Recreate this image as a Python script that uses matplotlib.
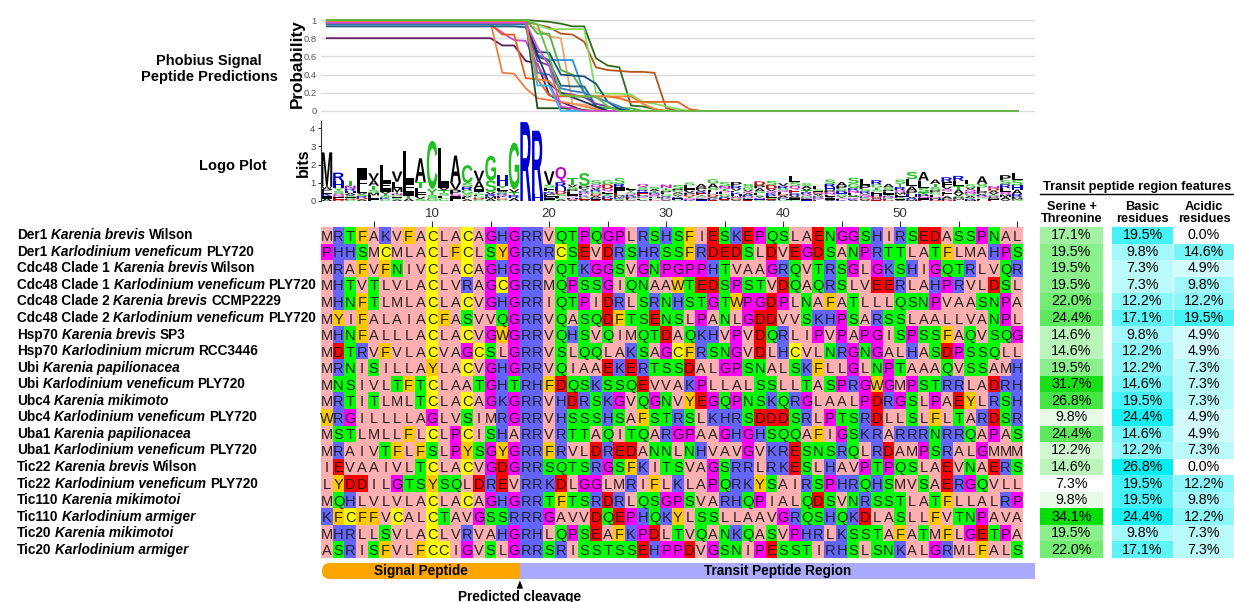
import matplotlib
matplotlib.use("Agg")
import matplotlib.pyplot as plt
import matplotlib.transforms as mtransforms
import numpy as np
from matplotlib.textpath import TextPath
from matplotlib.patches import PathPatch, Rectangle, FancyBboxPatch
from matplotlib.font_manager import FontProperties
from matplotlib.colors import LinearSegmentedColormap, Normalize

plt.rcParams['font.family'] = ['Liberation Sans', 'DejaVu Sans']

W, H = 1234, 602

# --- data ---
genes = ['Der1', 'Der1', 'Cdc48 Clade 1', 'Cdc48 Clade 1', 'Cdc48 Clade 2', 'Cdc48 Clade 2',
         'Hsp70', 'Hsp70', 'Ubi', 'Ubi', 'Ubc4', 'Ubc4', 'Uba1', 'Uba1',
         'Tic22', 'Tic22', 'Tic110', 'Tic110', 'Tic20', 'Tic20']
species = ['Karenia brevis', 'Karlodinium veneficum', 'Karenia brevis', 'Karlodinium veneficum',
           'Karenia brevis', 'Karlodinium veneficum', 'Karenia brevis', 'Karlodinium micrum',
           'Karenia papilionacea', 'Karlodinium veneficum', 'Karenia mikimoto', 'Karlodinium veneficum',
           'Karenia papilionacea', 'Karlodinium veneficum', 'Karenia brevis', 'Karlodinium veneficum',
           'Karenia mikimotoi', 'Karlodinium armiger', 'Karenia mikimotoi', 'Karlodinium armiger']
strains = ['Wilson', 'PLY720', 'Wilson', 'PLY720', 'CCMP2229', 'PLY720', 'SP3', 'RCC3446',
           '', 'PLY720', '', 'PLY720', '', 'PLY720', 'Wilson', 'PLY720', '', '', '', '']

sequences = [
    'MRTFAKVFACLACAGHGRRVQTPQGPLRSHSFIESKEPQSLAENGGSHIRSEDASSPNAL',
    'PHHSMCMLACLFCLSYGRRRCSEVDRSHRSSFRDEDSLDVEGDSANPRTTLATFLMAHPS',
    'MRAFVFNIVCLACAGHGRRVQTKGGSVGNPGPPHTVAAGRQVTRSGLGKSHIGQTRLVQR',
    'MHTVTLVLACLVRAGCGRRMQPSSGIQNAAWTEDSPSTVDQAQRSLVEERLAHPRVLDSL',
    'MHNFTLMLACLACVGHGRRIQTPIDRLSRNHSTGTWPGDPLNAFATLLLQSNPVAASNPA',
    'MYIFALAIACFASVVQGRRVQASQDFTSENSLPANLGDDVVSKHPSARSSLAALLVANPL',
    'MHNFALLLACLACVGWGRRVQHSVQIMQTDAQKHVPVDQRLIPVPAPGISPSSFAQVSQG',
    'MDTRVFVLACVAGCSLGRRVSLQQLAKSAGCFRSNGVDLHCVLNRGNGALHASDPSSQLL',
    'MRNISILLAYLACVGHGRRVQIAAEKERTSSDALGPSNALSKFLLGLNPTAAAQVSSAMH',
    'MNSIVLTFTCLAATGHTRHFDQSKSSQEVVAKPLLALSSLLTASPRGWGMPSTRRLADRH',
    'MRTITLMLTCLACAGKGRRVHDRSKGVQGNVYEGQPNSKQRGLAALPDRGSLPAEYLRSH',
    'WRGILLLLAGLVSIMRGRRVHSSSHSAFSTRSLKHRSDDDSRLPTSRDLLSLFLTARDSR',
    'MSTLMLLFLCLPCISHARRVRTTAQITQARGPAAGHGHSQQAFIGSKRARRRNRRQAPAS',
    'MRAIVTFLFSLPYSGYGRRFRVLDREDANNLNHVAVGVKRESNSRQLRDAMPSRALGMMM',
    'IEVAAIVLTCLACVGDGRRSQTSRGSFKITSVAGSRRLRKESLHAVPTPQSLAEVNAERS',
    'LYDDILGTSYSQLDREVRRKDLGGLMRIFLKLAPQRKYSAIRSPHRQHSMVSAERGQVLL',
    'MQHLVLVLACLACAGHGRRTFTSRDRLQSGPSVARHQPIALQDSVNRSSTLATFLLALRP',
    'KFCFFVCALCTAVGSSRRRGAVVDQEPHQKYLSSLLAAVGRQSHQKDLASLLFVTNPAVA',
    'MHRLLSVLACLVRVAHGRHLQPSEAFKPDLTVQANKQASVPHRLKSSTAFATMFLGETPA',
    'ASRISFVLFCCIGVSLGRRSRISSTSSEHPPDVGSNIPESSTIRHSLSNKALGRMLFALS',
]

ser_thr = [17.1, 19.5, 19.5, 19.5, 22.0, 24.4, 14.6, 14.6, 19.5, 31.7,
           26.8, 9.8, 24.4, 12.2, 14.6, 7.3, 9.8, 34.1, 19.5, 22.0]
basic = [19.5, 9.8, 7.3, 7.3, 12.2, 17.1, 9.8, 12.2, 12.2, 14.6,
         19.5, 24.4, 14.6, 12.2, 26.8, 19.5, 19.5, 24.4, 9.8, 17.1]
acidic = [0.0, 14.6, 4.9, 9.8, 12.2, 19.5, 4.9, 4.9, 7.3, 7.3,
          7.3, 4.9, 4.9, 7.3, 0.0, 12.2, 9.8, 12.2, 7.3, 7.3]

cleavage_site = 17

# Phobius signal peptide probability, vertices (position, probability)
curve_pos = [
    [1, 15, 16, 17, 18, 19, 20, 21, 22, 23, 60],
    [1, 15, 16, 17, 18, 19, 20, 21, 22, 23, 24, 25, 60],
    [1, 14, 15, 16, 17, 18, 19, 20, 21, 22, 60],
    [1, 18, 19, 20, 21, 22, 23, 24, 25, 26, 27, 28, 29, 30, 60],
    [1, 18, 19, 20, 21, 22, 23, 24, 25, 26, 27, 28, 29, 30, 31, 60],
    [1, 18, 19, 20, 21, 22, 23, 24, 25, 26, 27, 28, 29, 30, 31, 32, 60],
    [1, 14, 15, 16, 17, 18, 19, 20, 21, 25, 26, 27, 31, 32, 33, 60],
    [1, 18, 19, 20, 21, 22, 23, 24, 25, 60],
    [1, 18, 19, 20, 21, 22, 23, 24, 25, 27, 28, 60],
    [1, 18, 19, 20, 21, 22, 23, 24, 60],
    [1, 18, 19, 20, 21, 60],
    [1, 18, 19, 20, 21, 22, 23, 24, 25, 60],
    [1, 18, 19, 20, 21, 22, 23, 24, 25, 26, 27, 60],
    [1, 17, 18, 19, 20, 21, 22, 23, 24, 25, 60],
    [1, 18, 19, 20, 21, 22, 23, 24, 25, 26, 27, 60],
    [1, 18, 19, 20, 21, 22, 23, 24, 25, 26, 60],
    [1, 18, 19, 20, 21, 22, 23, 24, 25, 60],
    [1, 18, 19, 20, 21, 22, 23, 27, 28, 29, 30, 60],
    [1, 18, 19, 20, 21, 22, 23, 60],
    [1, 18, 19, 20, 21, 22, 24, 25, 26, 60],
]
curve_prob = [
    [0.80, 0.80, 0.72, 0.72, 0.55, 0.52, 0.18, 0.10, 0.05, 0.0, 0.0],
    [0.97, 0.97, 0.42, 0.41, 0.25, 0.14, 0.12, 0.10, 0.08, 0.05, 0.02, 0.0, 0.0],
    [0.97, 0.97, 0.95, 0.86, 0.78, 0.77, 0.50, 0.30, 0.05, 0.0, 0.0],
    [1.0, 1.0, 0.99, 0.98, 0.96, 0.93, 0.93, 0.58, 0.50, 0.48, 0.06, 0.05, 0.02, 0.0, 0.0],
    [0.98, 0.98, 0.95, 0.92, 0.85, 0.84, 0.76, 0.48, 0.45, 0.44, 0.43, 0.43, 0.42, 0.03, 0.0, 0.0],
    [1.0, 1.0, 0.95, 0.90, 0.90, 0.90, 0.90, 0.20, 0.19, 0.19, 0.18, 0.10, 0.08, 0.05, 0.02, 0.0, 0.0],
    [0.97, 0.97, 0.95, 0.84, 0.84, 0.36, 0.35, 0.17, 0.16, 0.16, 0.14, 0.10, 0.10, 0.02, 0.0, 0.0],
    [0.97, 0.97, 0.90, 0.82, 0.80, 0.08, 0.07, 0.04, 0.0, 0.0],
    [1.0, 1.0, 0.85, 0.85, 0.45, 0.40, 0.20, 0.05, 0.03, 0.03, 0.0, 0.0],
    [0.99, 0.99, 0.03, 0.03, 0.03, 0.03, 0.01, 0.0, 0.0],
    [0.96, 0.96, 0.28, 0.28, 0.0, 0.0],
    [0.95, 0.95, 0.62, 0.56, 0.56, 0.56, 0.20, 0.05, 0.0, 0.0],
    [0.96, 0.96, 0.65, 0.64, 0.40, 0.39, 0.38, 0.30, 0.10, 0.02, 0.0, 0.0],
    [0.93, 0.93, 0.92, 0.60, 0.55, 0.28, 0.27, 0.27, 0.05, 0.0, 0.0],
    [0.96, 0.96, 0.42, 0.40, 0.25, 0.22, 0.20, 0.15, 0.10, 0.05, 0.0, 0.0],
    [0.97, 0.97, 0.55, 0.50, 0.20, 0.18, 0.15, 0.08, 0.05, 0.0, 0.0],
    [0.98, 0.98, 0.62, 0.30, 0.20, 0.15, 0.10, 0.05, 0.0, 0.0],
    [0.98, 0.98, 0.35, 0.33, 0.18, 0.17, 0.16, 0.16, 0.08, 0.02, 0.0, 0.0],
    [0.97, 0.97, 0.70, 0.50, 0.05, 0.03, 0.0, 0.0],
    [1.0, 1.0, 0.95, 0.60, 0.18, 0.16, 0.16, 0.05, 0.0, 0.0],
]
curve_colors = ['#5b1f5f', '#f47c3c', '#cc49c8', '#2f6a1f', '#b4561c', '#86d95f', '#e9621c',
                '#f5a06a', '#4fb23a', '#1e4c1a', '#35bdf2', '#2b8fd6', '#1c4e78', '#21617f',
                '#3a7cc0', '#7b3f9b', '#173b5d', '#f0822f', '#d452c4', '#60c040']

# Zappo colouring for the alignment
zappo = {}
for aa in 'ILVAM':
    zappo[aa] = '#ffafaf'
for aa in 'FWY':
    zappo[aa] = '#ffc800'
for aa in 'KRH':
    zappo[aa] = '#6464ff'
for aa in 'DE':
    zappo[aa] = '#ff0000'
for aa in 'STNQ':
    zappo[aa] = '#00ff00'
for aa in 'PG':
    zappo[aa] = '#ff00ff'
zappo['C'] = '#ffff00'

# WebLogo chemistry colouring for the logo
logo_colors = {}
for aa in 'GSTYC':
    logo_colors[aa] = '#1fbf1f'
for aa in 'NQ':
    logo_colors[aa] = '#cc00cc'
for aa in 'KRH':
    logo_colors[aa] = '#0000cc'
for aa in 'DE':
    logo_colors[aa] = '#cc0000'
for aa in 'AVLIPWFM':
    logo_colors[aa] = '#000000'

n_rows = len(sequences)
n_cols = len(sequences[0])

fig = plt.figure(figsize=(W / 100, H / 100), dpi=100)


def px_axes(x0, y0, x1, y1):
    return fig.add_axes([x0 / W, 1 - y1 / H, (x1 - x0) / W, (y1 - y0) / H])


page = px_axes(0, 0, W, H)
page.set_xlim(0, W)
page.set_ylim(H, 0)
page.axis('off')

AL_X0, AL_X1 = 321, 1023
AL_Y0, AL_Y1 = 227, 558
res_w = (AL_X1 - AL_X0) / n_cols
row_h = (AL_Y1 - AL_Y0) / n_rows

# --- Phobius probability plot ---
ax_p = px_axes(AL_X0, 18.2, 1035, 112.8)
ax_p.set_facecolor('none')
for xs, ys, c in zip(curve_pos, curve_prob, curve_colors):
    ax_p.plot(xs, ys, color=c, lw=1.3)
ax_p.set_xlim(0.5, 0.5 + (1035 - AL_X0) / res_w)
ax_p.set_ylim(-0.02, 1.02)
ax_p.set_yticks([0, 0.2, 0.4, 0.6, 0.8, 1.0])
ax_p.set_yticklabels(['0', '0.2', '0.4', '0.6', '0.8', '1'])
ax_p.set_xticks([])
ax_p.grid(axis='y', color='#dddddd', lw=1)
ax_p.set_axisbelow(True)
for s in ax_p.spines.values():
    s.set_visible(False)
ax_p.tick_params(axis='y', length=0, labelsize=6.8, labelcolor='#555555', pad=3)
page.text(297, 64, 'Probability', rotation=90, fontweight='bold', fontsize=12.3,
          ha='center', va='center')
page.text(209, 69, 'Phobius Signal\nPeptide Predictions', fontweight='bold', fontsize=10.5,
          ha='center', va='center', linespacing=1.15)

# --- sequence logo ---
ax_l = px_axes(AL_X0, 120.7, AL_X1, 201)
ax_l.set_facecolor('none')
ax_l.set_xlim(0.5, n_cols + 0.5)
ax_l.set_ylim(0, 4.4)
logo_font = FontProperties(family='Liberation Sans', weight='bold')
glyph_cache = {}


def draw_letter(ax, ch, xc, y0, w, h, color):
    if ch not in glyph_cache:
        glyph_cache[ch] = TextPath((0, 0), ch, size=1, prop=logo_font)
    p = glyph_cache[ch]
    ext = p.get_extents()
    tr = (mtransforms.Affine2D().translate(-ext.x0, -ext.y0)
          .scale(w / ext.width, h / ext.height).translate(xc - w / 2, y0))
    ax.add_patch(PathPatch(tr.transform_path(p), fc=color, ec='none', lw=0))


max_bits = np.log2(20)
for c in range(n_cols):
    col = [s[c] for s in sequences]
    letters = sorted(set(col))
    freqs = {aa: col.count(aa) / n_rows for aa in letters}
    ent = -sum(f * np.log2(f) for f in freqs.values())
    ic = max_bits - ent
    y = 0.0
    for aa in sorted(letters, key=lambda a: (freqs[a], a)):
        h = freqs[aa] * ic
        if h > 0.005:
            draw_letter(ax_l, aa, c + 1, y, 0.92, h, logo_colors[aa])
        y += h
for k in ['top', 'right', 'bottom']:
    ax_l.spines[k].set_visible(False)
ax_l.spines['left'].set_color('#333333')
ax_l.spines['left'].set_linewidth(0.8)
ax_l.set_xticks([])
ax_l.set_yticks([0, 1, 2, 3, 4])
ax_l.tick_params(axis='y', length=2.5, width=0.6, labelsize=6.8, labelcolor='#444444', pad=1.5)
page.text(303, 163, 'bits', rotation=90, fontweight='bold', fontsize=11.5, ha='center', va='center')
page.text(233, 166, 'Logo Plot', fontweight='bold', fontsize=10.5, ha='center', va='center')

# --- alignment ---
ax_a = px_axes(AL_X0, AL_Y0, AL_X1, AL_Y1)
rgb = np.array([[matplotlib.colors.to_rgb(zappo[aa]) for aa in s] for s in sequences])
ax_a.imshow(rgb, extent=(0.5, n_cols + 0.5, n_rows + 0.5, 0.5), aspect='auto',
            interpolation='nearest')
for i, s in enumerate(sequences):
    for j, aa in enumerate(s):
        ax_a.text(j + 1, i + 1, aa, ha='center', va='center_baseline', fontsize=10.5,
                  color='#222222')
ax_a.set_xlim(0.5, n_cols + 0.5)
ax_a.set_ylim(n_rows + 0.5, 0.5)
ax_a.xaxis.tick_top()
ticks = list(range(5, n_cols + 1, 5))
ax_a.set_xticks(ticks)
ax_a.set_xticklabels([str(t) if t % 10 == 0 and t < 60 else '' for t in ticks])
ax_a.set_yticks([])
ax_a.tick_params(axis='x', length=4, width=0.8, color='#333333', labelsize=9.5,
                 labelcolor='#333333', pad=1)
for s in ax_a.spines.values():
    s.set_visible(False)

# row labels
lab_fs = 9.8
for i in range(n_rows):
    yc = AL_Y0 + (i + 0.5) * row_h
    t1 = page.text(17, yc, genes[i], fontweight='bold', fontsize=lab_fs, va='center', ha='left')
    t2 = page.annotate(species[i], xy=(1, 0), xycoords=t1, xytext=(2.7, 0),
                       textcoords='offset points', fontweight='bold', fontstyle='italic',
                       fontsize=lab_fs, va='bottom', ha='left')
    if strains[i]:
        page.annotate(strains[i], xy=(1, 0), xycoords=t2, xytext=(2.7, 0),
                      textcoords='offset points', fontweight='bold', fontsize=lab_fs,
                      va='bottom', ha='left')

# --- transit peptide feature table ---
green_cmap = LinearSegmentedColormap.from_list('grn', ['#ffffff', '#00dd00'])
cyan_cmap = LinearSegmentedColormap.from_list('cyn', ['#ffffff', '#00eef2'])
g_norm = Normalize(min(ser_thr), max(ser_thr))
c_norm = Normalize(0, max(basic + acidic))
table_cols = [(ser_thr, green_cmap, g_norm, 1040, 1103, 'Serine +\nThreonine'),
              (basic, cyan_cmap, c_norm, 1112, 1173, 'Basic\nresidues'),
              (acidic, cyan_cmap, c_norm, 1174, 1234, 'Acidic\nresidues')]
for vals, cmap, norm, x0, x1, head in table_cols:
    ax_t = px_axes(x0, AL_Y0, x1, AL_Y1)
    ax_t.imshow(np.array(vals)[:, None], cmap=cmap, norm=norm, aspect='auto',
                extent=(0, 1, n_rows, 0), interpolation='nearest')
    for i, v in enumerate(vals):
        ax_t.text(0.5, i + 0.5, f'{v:.1f}%', ha='center', va='center', fontsize=10.3)
    ax_t.set_xlim(0, 1)
    ax_t.set_ylim(n_rows, 0)
    ax_t.axis('off')
    page.text((x0 + x1) / 2, 213, head, fontweight='bold', fontsize=9.2, ha='center',
              va='center', linespacing=1.0)
page.text(1137, 187, 'Transit peptide region features', fontweight='bold', fontsize=9.3,
          ha='center', va='center')
page.plot([1040, 1234], [193.5, 193.5], color='black', lw=1)

# --- region bar and cleavage marker ---
cleave_x = AL_X0 + cleavage_site * res_w
page.add_patch(FancyBboxPatch((322, 563), cleave_x - 322 + 10, 16,
                              boxstyle='round,pad=0,rounding_size=8', fc='#ffa500', ec='none'))
page.add_patch(Rectangle((cleave_x, 563), 1035 - cleave_x, 16, fc='#aaaaff', ec='none'))
narrow = ['Liberation Sans Narrow', 'Liberation Sans']
page.text((322 + cleave_x) / 2, 571, 'Signal Peptide', fontweight='bold', fontsize=9.8,
          family=narrow, ha='center', va='center')
page.text((cleave_x + 1035) / 2, 571, 'Transit Peptide Region', fontweight='bold',
          fontsize=9.8, family=narrow, ha='center', va='center')
page.annotate('Predicted cleavage', xy=(cleave_x, 580.5), xytext=(cleave_x, 590),
              ha='center', va='top', fontweight='bold', fontsize=9.8, family=narrow,
              arrowprops=dict(arrowstyle='-|>,head_length=0.45,head_width=0.18',
                              color='black', lw=0.8, shrinkA=0, shrinkB=0))

fig.savefig('out.png', dpi=100)
